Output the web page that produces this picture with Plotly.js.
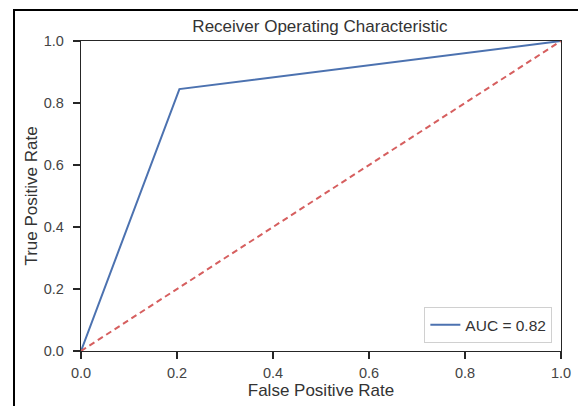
<!DOCTYPE html>
<html>
<head>
<meta charset="utf-8">
<script src="https://cdn.plot.ly/plotly-3.0.1.min.js"></script>
<style>
  html, body { margin: 0; padding: 0; background: #fff; }
  #wrap { position: relative; width: 578px; height: 406px; overflow: hidden; }
  #chart { width: 578px; height: 406px; }
  #frame { position: absolute; left: 13px; top: 9px; right: -5px; bottom: -5px;
           border-left: 2px solid #000; border-top: 2px solid #000; pointer-events: none; }
</style>
</head>
<body>
<div id="wrap">
  <div id="chart"></div>
  <div id="frame"></div>
</div>
<script>
const fpr = [0, 0.205, 1];
const tpr = [0, 0.845, 1];
const chanceX = [0, 1];
const chanceY = [0, 1];
const aucLabel = "AUC = 0.82";
const tickVals = [0, 0.2, 0.4, 0.6, 0.8, 1.0];
const tickText = ["0.0", "0.2", "0.4", "0.6", "0.8", "1.0"];

const textColor = "#262626";
const font = "Liberation Sans, Arial, sans-serif";

const traces = [
  { x: fpr, y: tpr, mode: "lines", name: aucLabel,
    line: { color: "#4c72b0", width: 2 } },
  { x: chanceX, y: chanceY, mode: "lines", showlegend: false,
    line: { color: "#d65f5f", width: 2, dash: "6px,4px" } }
];

const axisCommon = {
  range: [0, 1],
  tickvals: tickVals,
  ticktext: tickText,
  ticks: "outside",
  ticklen: 7,
  tickwidth: 1.25,
  tickcolor: textColor,
  showline: true,
  linecolor: textColor,
  linewidth: 1.25,
  mirror: true,
  showgrid: false,
  zeroline: false,
  tickfont: { family: font, size: 14.5, color: "#444" }
};

const layout = {
  width: 578, height: 406,
  margin: { l: 81, r: 17, t: 41, b: 55 },
  paper_bgcolor: "#fff",
  plot_bgcolor: "#fff",
  font: { family: font, color: textColor },
  title: { text: "Receiver Operating Characteristic", x: 0.5535, xanchor: "center",
           y: 0.935, yanchor: "middle",
           font: { family: font, size: 17, color: "#333" } },
  xaxis: Object.assign({}, axisCommon, {
    ticklabelstandoff: 1,
    title: { text: "False Positive Rate", standoff: 3, font: { family: font, size: 17, color: "#333" } }
  }),
  yaxis: Object.assign({}, axisCommon, {
    ticklabelstandoff: 6,
    title: { text: "True Positive Rate", standoff: 1, font: { family: font, size: 17, color: "#333" } }
  }),
  showlegend: true,
  legend: {
    x: 0.982, xanchor: "right", y: 0.025, yanchor: "bottom",
    bgcolor: "#fff", bordercolor: "#d0d0d0", borderwidth: 1,
    font: { family: font, size: 15.5, color: "#333" }
  }
};

Plotly.newPlot("chart", traces, layout, { displayModeBar: false, staticPlot: true });
</script>
</body>
</html>
